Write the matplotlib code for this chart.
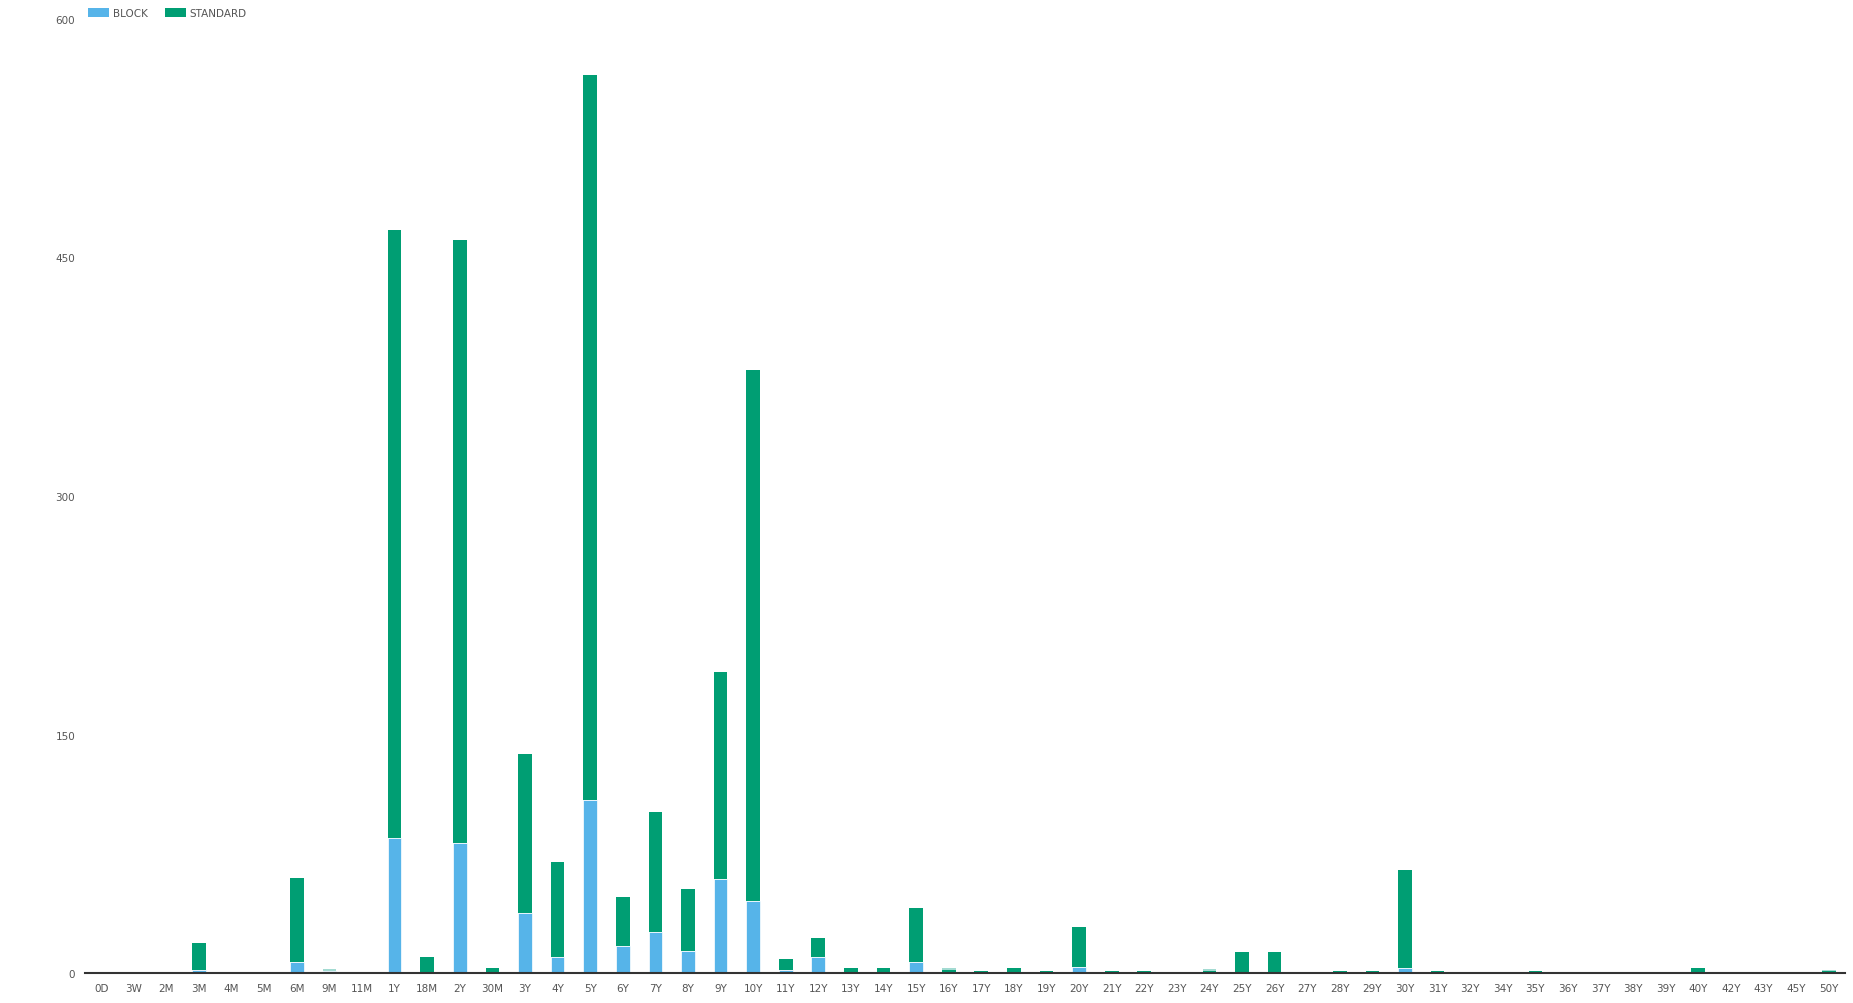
import matplotlib.pyplot as plt
from matplotlib.patches import Patch
import numpy as np

# Data
tenors = ["0D", "3W", "2M", "3M", "4M", "5M", "6M", "9M", "11M", "1Y", "18M", "2Y", "30M",
          "3Y", "4Y", "5Y", "6Y", "7Y", "8Y", "9Y", "10Y", "11Y", "12Y", "13Y", "14Y", "15Y",
          "16Y", "17Y", "18Y", "19Y", "20Y", "21Y", "22Y", "23Y", "24Y", "25Y", "26Y", "27Y",
          "28Y", "29Y", "30Y", "31Y", "32Y", "34Y", "35Y", "36Y", "37Y", "38Y", "39Y", "40Y",
          "42Y", "43Y", "45Y", "50Y"]
block = [0, 0, 0, 2, 0, 0, 7, 1.5, 0, 85, 0, 82, 0,
         38, 10, 109, 17, 26, 14, 59, 45, 2, 10, 0, 0, 7,
         0, 0, 0, 0, 4, 0, 0, 0, 0, 0, 0, 0,
         0, 0, 3, 0, 0, 0, 0, 0, 0, 0, 0, 0,
         0, 0, 0, 0]
standard = [0, 0, 0, 17, 0, 0, 53, 0, 0, 382, 10, 379, 3,
            100, 60, 456, 31, 75, 39, 130, 334, 7, 12, 3, 3, 34,
            2, 1, 3, 1, 25, 1, 1, 0, 1.5, 13, 13, 0,
            1, 1.5, 62, 1, 0, 0, 1, 0, 0, 0, 0, 3,
            0, 0, 0, 1]
other = [0, 0, 0, 0, 0, 0, 0, 1.2, 0, 0, 0, 0, 0,
         0, 0, 0, 0, 0, 0, 0, 0, 0, 0, 0, 0, 0,
         1, 0, 0, 0, 0, 0, 0, 0, 1, 0, 0, 0,
         0, 0, 0, 0, 0, 0, 0, 0, 0, 0, 0, 0,
         0, 0, 0, 1]

blue = "#56B4E9"
green = "#009E73"
light = "#a3dbd2"
text_color = "#555555"

fig = plt.figure(figsize=(18.53, 10.04), dpi=100)
ax = fig.add_axes([85 / 1853, 30 / 1004, (1845 - 85) / 1853, (974 - 20) / 1004])

x = np.arange(len(tenors))
block = np.array(block, dtype=float)
standard = np.array(standard, dtype=float)
other = np.array(other, dtype=float)

# Stacked bars, thin white line on top of the blue segment
w = 0.42
ax.bar(x, block, width=w, color=blue, edgecolor="white", linewidth=0.5)
ax.bar(x, standard, width=w, bottom=block, color=green, linewidth=0)
ax.bar(x, other, width=w, bottom=block + standard, color=light, linewidth=0)

ax.set_xlim(-0.5, len(tenors) - 0.5)
ax.set_ylim(0, 600)
ax.set_yticks([0, 150, 300, 450, 600])
ax.set_xticks(x)
ax.set_xticklabels(tenors)
ax.tick_params(axis="both", length=0, labelsize=7.5, colors=text_color)
ax.tick_params(axis="x", pad=7)
ax.tick_params(axis="y", pad=7)

for s in ["top", "right", "left"]:
    ax.spines[s].set_visible(False)
ax.spines["bottom"].set_color("#333333")
ax.spines["bottom"].set_linewidth(1.5)

# Legend
handles = [Patch(facecolor=blue, label="BLOCK"), Patch(facecolor=green, label="STANDARD")]
fig.legend(handles=handles, loc="upper left", bbox_to_anchor=(84 / 1853, 1 - 5 / 1004),
           ncol=2, frameon=False, fontsize=7.5, handlelength=2.0, handleheight=1.0,
           handletextpad=0.4, columnspacing=1.6, labelcolor=text_color, borderaxespad=0)

fig.savefig("out.png", dpi=100)
